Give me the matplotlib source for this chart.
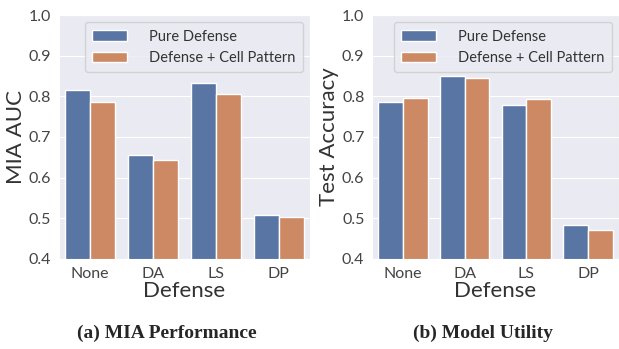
import matplotlib
matplotlib.use("Agg")
import matplotlib.pyplot as plt
import seaborn as sns
import numpy as np

defenses = ["None", "DA", "LS", "DP"]
series_names = ["Pure Defense", "Defense + Cell Pattern"]

# MIA AUC per defense
mia_pure = [0.815, 0.655, 0.832, 0.508]
mia_cell = [0.787, 0.643, 0.806, 0.502]

# test accuracy per defense
acc_pure = [0.787, 0.850, 0.779, 0.484]
acc_cell = [0.797, 0.845, 0.793, 0.470]

sns.set_style("darkgrid")
plt.rcParams['font.family'] = ['Lato', 'DejaVu Sans']

deep = sns.color_palette("deep")
colors = [sns.desaturate(deep[0], 0.75), sns.desaturate(deep[1], 0.75)]

fig = plt.figure(figsize=(6.19, 3.49), dpi=100)
ax1 = fig.add_axes([0.095, 0.258, 0.406, 0.699])
ax2 = fig.add_axes([0.601, 0.258, 0.399, 0.699])

def draw(ax, pure, cell, ylabel):
    x = np.arange(len(defenses))
    w = 0.4
    ax.bar(x - w / 2, pure, w, bottom=0, color=colors[0], edgecolor="white",
           linewidth=1, label=series_names[0])
    ax.bar(x + w / 2, cell, w, bottom=0, color=colors[1], edgecolor="white",
           linewidth=1, label=series_names[1])
    ax.set_xlim(-0.5, len(defenses) - 0.5)
    ax.set_ylim(0.4, 1.0)
    ax.set_yticks([0.4, 0.5, 0.6, 0.7, 0.8, 0.9, 1.0])
    ax.set_xticks(x)
    ax.set_xticklabels(defenses)
    ax.tick_params(labelsize=11.5, colors="#444444", pad=2)
    ax.set_xlabel("Defense", fontsize=16, color="#333333", labelpad=0)
    ax.set_ylabel(ylabel, fontsize=16, color="#333333", labelpad=2)
    ax.grid(axis="x", visible=False)
    leg = ax.legend(loc="upper right", fontsize=10.5, handlelength=2.4,
                    handletextpad=1.5, borderpad=0.5, labelspacing=0.5)
    for t in leg.get_texts():
        t.set_color("#333333")

draw(ax1, mia_pure, mia_cell, "MIA AUC")
draw(ax2, acc_pure, acc_cell, "Test Accuracy")

fig.text(0.27, 0.045, "(a) MIA Performance", ha="center", va="center",
         fontsize=14, fontweight="bold", family="Liberation Serif")
fig.text(0.78, 0.045, "(b) Model Utility", ha="center", va="center",
         fontsize=14, fontweight="bold", family="Liberation Serif")

fig.savefig("out.png", dpi=100)
